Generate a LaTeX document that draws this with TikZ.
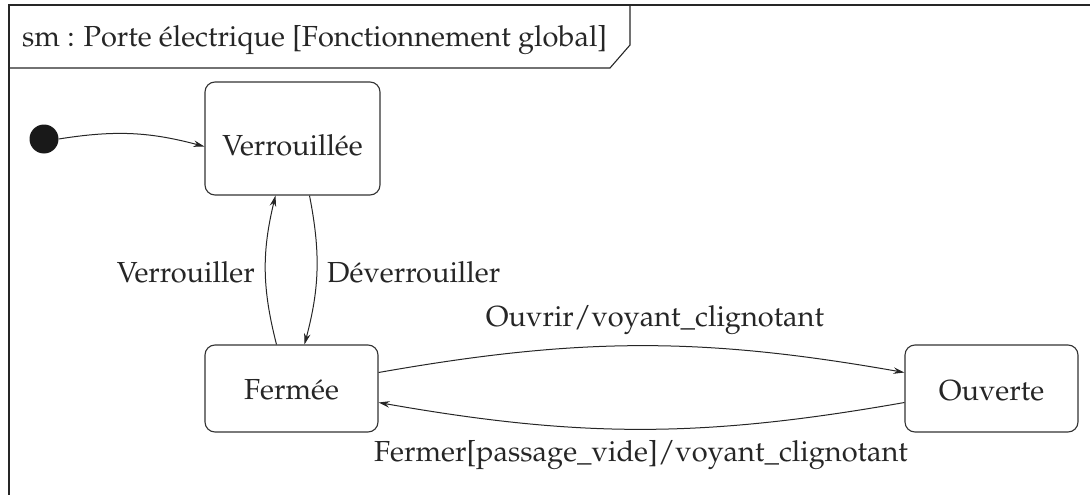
\documentclass[tikz,border=0pt]{standalone}
\usepackage[T1]{fontenc}
\usepackage{mathpazo}
\usetikzlibrary{arrows.meta,calc}
\begin{document}
\begin{tikzpicture}[x=1pt,y=-1pt,
  every node/.style={font=\fontsize{29}{34}\selectfont, text=black!85},
  statebox/.style={draw=black!80, line width=1.1pt, rounded corners=10pt, inner sep=0pt},
  trans/.style={draw=black!85, line width=1pt, -{Stealth[length=11pt,width=6.5pt]}},
  lbl/.style={inner sep=0pt}
]
\useasboundingbox (0,0) rectangle (1090,495);
% frame
\draw[black!85, line width=1.4pt] (9,495) -- (9,5) -- (1090,5);
\draw[black!85, line width=1.1pt] (9,68) -- (610,68) -- (630,45) -- (630,5);
\node[lbl, anchor=west] (title) at (22,40) {sm : Porte électrique [Fonctionnement global]};
% states
\node[statebox, minimum width=175pt, minimum height=113pt] (ver) at (292.5,138.5) {};
\node[lbl] (vert) at (292.5,145) {Verrouillée};
\node[statebox, minimum width=173pt, minimum height=87pt] (fer) at (291.5,388.5) {};
\node[lbl] (fert) at (291.5,390) {Fermée};
\node[statebox, minimum width=173pt, minimum height=87pt] (ouv) at (991.5,388.5) {};
\node[lbl] (ouvt) at (991.5,391) {Ouverte};
\node[circle, fill=black!90, minimum size=29pt, inner sep=0pt] (init) at (44,139) {};
% transitions
\draw[trans] (init.east) to[bend left=12] ([yshift=-8pt]ver.west);
\draw[trans] ([xshift=-15pt]fer.north) to[bend left=14] ([xshift=-17pt]ver.south);
\draw[trans] ([xshift=17pt]ver.south) to[bend left=13] ([xshift=13pt]fer.north);
\draw[trans] ([yshift=16pt]fer.east) to[bend left=10] ([yshift=16pt]ouv.west);
\draw[trans] ([yshift=-14pt]ouv.west) to[bend left=10] ([yshift=-14pt]fer.east);
% labels
\node[lbl, anchor=east] (l1) at (255,272) {Verrouiller};
\node[lbl, anchor=west] (l2) at (327,272) {Déverrouiller};
\node[lbl] (l3) at (655,320) {Ouvrir/voyant\_clignotant};
\node[lbl] (l4) at (641,455) {Fermer[passage\_vide]/voyant\_clignotant};
\end{tikzpicture}
\end{document}
